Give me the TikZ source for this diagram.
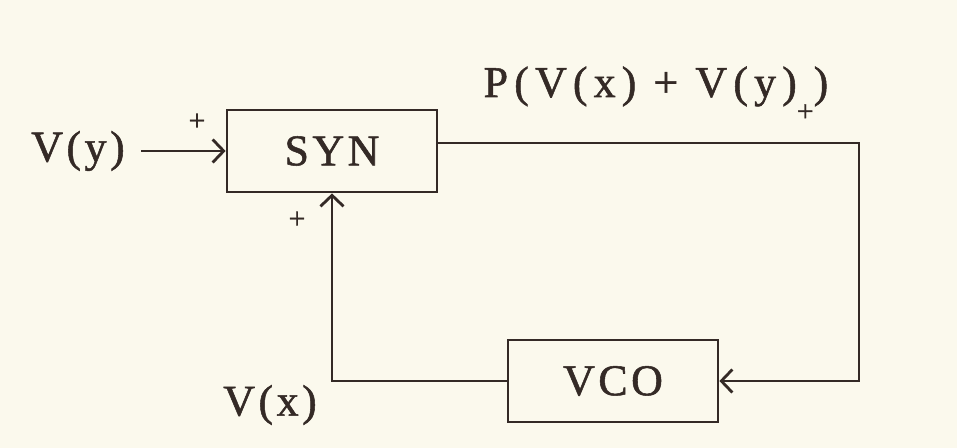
\documentclass[tikz,border=0pt]{standalone}
\usepackage{fontspec}
\setmainfont{Liberation Serif}
\usetikzlibrary{arrows.meta,positioning}
\definecolor{paper}{RGB}{251,249,237}
\definecolor{ink}{RGB}{52,42,38}

\begin{document}
\begin{tikzpicture}[x=0.02cm,y=-0.02cm,>={Straight Barb[length=2.2mm,width=4.6mm]},line width=1.6pt,draw=ink]
\tikzset{blk/.style={draw=ink,minimum width=4.2cm,minimum height=1.64cm,inner sep=0pt,text=ink,font=\fontsize{25}{25}\selectfont\addfontfeature{LetterSpace=8,FakeBold=1.2}},
  lbl/.style={inner sep=0pt,text=ink,font=\fontsize{25}{25}\selectfont\addfontfeature{LetterSpace=8,FakeBold=1.2}},
  sgn/.style={inner sep=0pt,text=ink,font=\fontsize{17}{17}\selectfont\addfontfeature{FakeBold=1}}}
\fill[paper] (0,0) rectangle (957,448);
\useasboundingbox (0,0) rectangle (957,448);
\node[blk] (syn) at (332,151) {SYN};
\node[blk] (vco) at (613,381) {VCO};
\node[lbl] (vy) at (78,151) {V(y)};
\node[lbl] (vx) at (270,405) {V(x)};
\node[lbl,anchor=base,font=\fontsize{25}{25}\selectfont\addfontfeature{LetterSpace=14,FakeBold=1.2}] (pout) at (656,97) {P(V(x) + V(y)\raisebox{-0.55em}{\fontsize{17}{17}\selectfont +})};
\node[sgn] (p1) at (197,122) {+};
\node[sgn] (p2) at (297,220) {+};
\coordinate (turn) at (859,143);
\draw[->,ink] (vy.east) ++(15,0) coordinate (vyo) -- (vyo -| syn.west);
\draw[->,ink] (syn.east |- turn) -- (turn) |- (vco.east);
\draw[->,ink] (vco.west) -| (syn.south);
\end{tikzpicture}
\end{document}
